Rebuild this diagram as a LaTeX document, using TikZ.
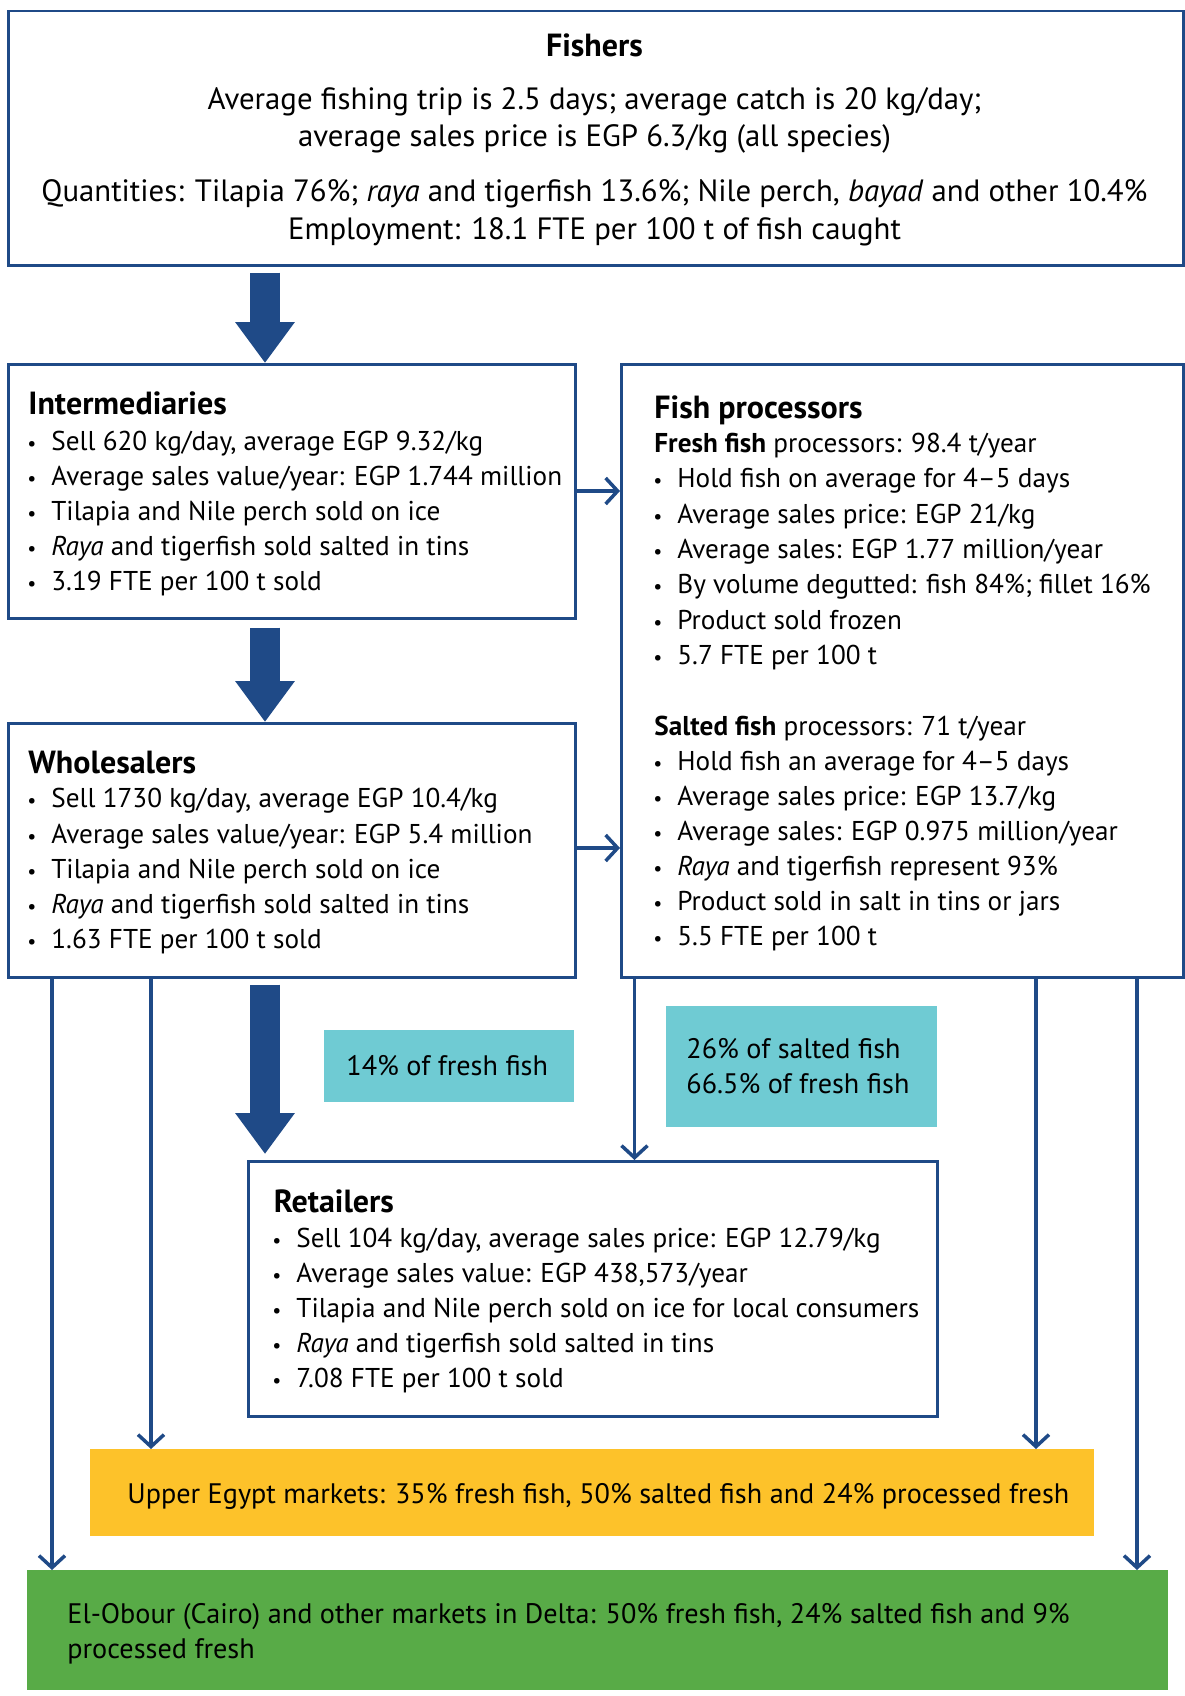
\documentclass[tikz,border=0pt]{standalone}
\usepackage{fontspec}
\setmainfont{PT Sans}
\usetikzlibrary{arrows.meta,calc}
\definecolor{fblue}{HTML}{1F4A87}
\definecolor{fcyan}{HTML}{6FCBD3}
\definecolor{fyellow}{HTML}{FDC22A}
\definecolor{fgreen}{HTML}{58AB47}
\newcommand\bodyfont{\fontsize{13.6}{15}\selectfont}
\newcommand\labfont{\fontsize{14.1}{16}\selectfont}
\newcommand\bigfont{\fontsize{15.4}{17}\selectfont}
\newcommand\headfont{\fontsize{16}{18}\selectfont\bfseries}
\newcommand\bulfont{\fontsize{10}{12}\selectfont}
\tikzset{
  flowbox/.style={draw=fblue, line width=1.25pt, fill=white, rectangle, inner sep=0pt, anchor=north west},
  colbox/.style={draw=none, rectangle, inner sep=0pt, anchor=north west},
  txt/.style={anchor=base west, inner sep=0pt, font=\bodyfont},
  lab/.style={anchor=base west, inner sep=0pt, font=\labfont},
  ctxt/.style={anchor=base, inner sep=0pt, font=\bigfont},
  headc/.style={anchor=base, inner sep=0pt, font=\headfont},
  head/.style={anchor=base west, inner sep=0pt, font=\headfont},
  bul/.style={anchor=base, inner sep=0pt, font=\bulfont},
  flowline/.style={draw=fblue, line width=1.75pt, -{Straight Barb[length=6pt,width=13pt]}},
  bigarrow/.style={draw=fblue, line width=15pt, -{Triangle[length=20.5pt,width=28.5pt]}},
}
\newcommand\mkbox[6]{\node[#6, minimum width={(#4-#2)*0.5pt}, minimum height={(#5-#3)*0.5pt}] (#1) at (#2,#3) {};}
\newcommand\bl[4]{\node[bul] (#1b) at (#2,#3) {•}; \node[txt] (#1) at ({#2+19},#3) {#4};}
\begin{document}
\begin{tikzpicture}[x=0.5pt,y=-0.5pt]
\useasboundingbox (0,0) rectangle (1184,1696);
% boxes
\mkbox{fishers}{7}{10}{1182}{264}{flowbox}
\mkbox{inter}{7}{363}{574}{617}{flowbox}
\mkbox{proc}{620}{363}{1182}{976}{flowbox}
\mkbox{whole}{7}{722}{574}{976}{flowbox}
\mkbox{retail}{247}{1160}{936}{1415}{flowbox}
\mkbox{cyanA}{324}{1030}{574}{1102}{colbox,fill=fcyan}
\mkbox{cyanB}{666}{1006}{937}{1127}{colbox,fill=fcyan}
\mkbox{upper}{90}{1449}{1094}{1536}{colbox,fill=fyellow}
\mkbox{delta}{27}{1570}{1168}{1690}{colbox,fill=fgreen}
% Fishers
\node[headc] (fh) at (594.5,57) {Fishers};
\node[ctxt] (f1) at (594.5,110) {Average fishing trip is 2.5 days; average catch is 20 kg/day;};
\node[ctxt] (f2) at (594.5,147) {average sales price is EGP 6.3/kg (all species)};
\node[ctxt] (f3) at (594.5,202) {Quantities: Tilapia 76\%; \textit{raya} and tigerfish 13.6\%; Nile perch, \textit{bayad} and other 10.4\%};
\node[ctxt] (f4) at (594.5,240) {Employment: 18.1 FTE per 100 t of fish caught};
% Intermediaries
\node[head] (ih) at (28,414) {Intermediaries};
\bl{i1}{32}{450}{Sell 620 kg/day, average EGP 9.32/kg}
\bl{i2}{32}{485}{Average sales value/year: EGP 1.744 million}
\bl{i3}{32}{520}{Tilapia and Nile perch sold on ice}
\bl{i4}{32}{555}{\textit{Raya} and tigerfish sold salted in tins}
\bl{i5}{32}{590}{3.19 FTE per 100 t sold}
% Wholesalers
\node[head] (wh) at (28,773) {Wholesalers};
\bl{w1}{32}{807}{Sell 1730 kg/day, average EGP 10.4/kg}
\bl{w2}{32}{843}{Average sales value/year: EGP 5.4 million}
\bl{w3}{32}{878}{Tilapia and Nile perch sold on ice}
\bl{w4}{32}{913}{\textit{Raya} and tigerfish sold salted in tins}
\bl{w5}{32}{948}{1.63 FTE per 100 t sold}
% Processors
\node[head] (ph) at (654,418) {Fish processors};
\node[txt] (pf) at (654,452) {\textbf{Fresh fish} processors: 98.4 t/year};
\bl{p1}{658}{487}{Hold fish on average for 4–5 days}
\bl{p2}{658}{523}{Average sales price: EGP 21/kg}
\bl{p3}{658}{558}{Average sales: EGP 1.77 million/year}
\bl{p4}{658}{593}{By volume degutted: fish 84\%; fillet 16\%}
\bl{p5}{658}{629}{Product sold frozen}
\bl{p6}{658}{664}{5.7 FTE per 100 t}
\node[txt] (ps) at (654,735) {\textbf{Salted fish} processors: 71 t/year};
\bl{s1}{658}{770}{Hold fish an average for 4–5 days}
\bl{s2}{658}{805}{Average sales price: EGP 13.7/kg}
\bl{s3}{658}{840}{Average sales: EGP 0.975 million/year}
\bl{s4}{658}{875}{\textit{Raya} and tigerfish represent 93\%}
\bl{s5}{658}{910}{Product sold in salt in tins or jars}
\bl{s6}{658}{945}{5.5 FTE per 100 t}
% Retailers
\node[head] (rh) at (273.5,1212) {Retailers};
\bl{r1}{277}{1247}{Sell 104 kg/day, average sales price: EGP 12.79/kg}
\bl{r2}{277}{1282}{Average sales value: EGP 438,573/year}
\bl{r3}{277}{1317}{Tilapia and Nile perch sold on ice for local consumers}
\bl{r4}{277}{1352}{\textit{Raya} and tigerfish sold salted in tins}
\bl{r5}{277}{1387}{7.08 FTE per 100 t sold}
% coloured labels
\node[lab] (ca) at (346,1075) {14\% of fresh fish};
\node[lab] (cb1) at (686,1058) {26\% of salted fish};
\node[lab] (cb2) at (686,1093) {66.5\% of fresh fish};
\node[lab] (ut) at (127,1503) {Upper Egypt markets: 35\% fresh fish, 50\% salted fish and 24\% processed fresh};
\node[lab] (dt1) at (67,1623) {El-Obour (Cairo) and other markets in Delta: 50\% fresh fish, 24\% salted fish and 9\%};
\node[lab] (dt2) at (67,1658) {processed fresh};
% connector coordinates
\coordinate (xT) at (265,0);
\coordinate (yA) at (0,491);
\coordinate (yB) at (0,848);
\coordinate (xL1) at (52,0);
\coordinate (xL2) at (151,0);
\coordinate (xP) at (634.5,0);
\coordinate (xR1) at (1036,0);
\coordinate (xR2) at (1137,0);
% big arrows
\draw[bigarrow, shorten <=3pt] (fishers.south -| xT) -- (inter.north -| xT);
\draw[bigarrow, shorten <=4pt] (inter.south -| xT) -- (whole.north -| xT);
\draw[bigarrow, shorten <=3pt, shorten >=3pt] (whole.south -| xT) -- (retail.north -| xT);
% thin arrows
\draw[flowline] (inter.east |- yA) -- (proc.west |- yA);
\draw[flowline] (whole.east |- yB) -- (proc.west |- yB);
\draw[flowline] (whole.south -| xL1) -- (delta.north -| xL1);
\draw[flowline] (whole.south -| xL2) -- (upper.north -| xL2);
\draw[flowline] (proc.south -| xP) -- (retail.north -| xP);
\draw[flowline] (proc.south -| xR1) -- (upper.north -| xR1);
\draw[flowline] (proc.south -| xR2) -- (delta.north -| xR2);
\end{tikzpicture}
\end{document}
